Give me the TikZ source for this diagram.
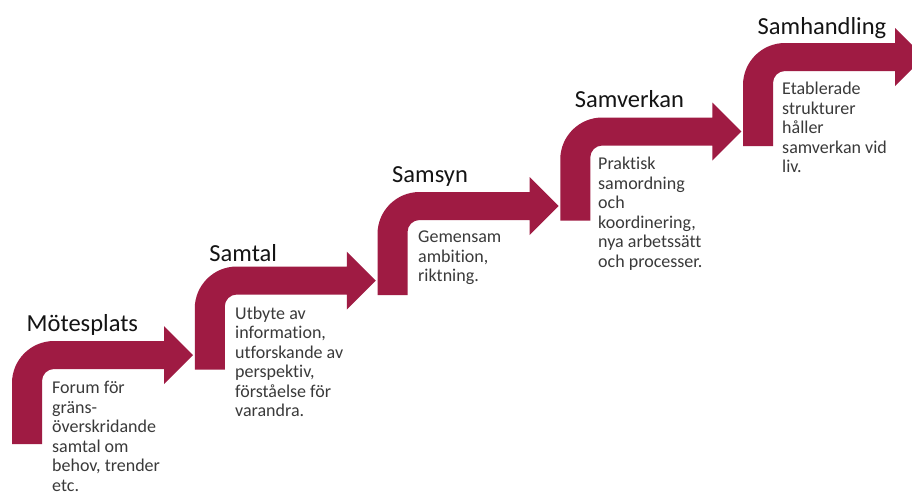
\documentclass[tikz,border=0pt]{standalone}
\usepackage{fontspec}
\setmainfont{Carlito}[Ligatures=NoCommon]
\definecolor{arrowred}{HTML}{9F1B43}
\definecolor{titlecol}{HTML}{141414}
\definecolor{bodycol}{HTML}{3A3A3A}
\tikzset{
  bentarrow/.pic={
    \fill[arrowred] (0,-89) -- (0,-28) arc[start angle=180,end angle=90,radius=42pt]
      -- (152,14) -- (152,29) -- (181,0) -- (152,-29) -- (152,-14) -- (42,-14)
      arc[start angle=90,end angle=180,radius=12pt] -- (30,-89) -- cycle;
  },
  steptitle/.style={anchor=base west, inner sep=0pt, text=titlecol,
    font=\fontsize{24.5}{28}\selectfont},
  stepbody/.style={anchor=north west, inner sep=0pt, text=bodycol, align=left,
    font=\fontsize{18}{19.5}\selectfont}
}
\begin{document}
\begin{tikzpicture}[x=1pt,y=1pt]
\fill[white] (0,0) rectangle (912,-493);
\useasboundingbox (0,0) rectangle (912,-493);
% arrows
\pic at (12,-355) {bentarrow};
\pic at (194.75,-280.5) {bentarrow};
\pic at (377.5,-206) {bentarrow};
\pic at (560.25,-131.5) {bentarrow};
\pic at (743,-57) {bentarrow};
% titles
\node[steptitle] (t1) at (26.5,-331) {Mötesplats};
\node[steptitle] (t2) at (209.25,-261) {Samtal};
\node[steptitle] (t3) at (392,-182) {Samsyn};
\node[steptitle] (t4) at (574.75,-107.5) {Samverkan};
\node[steptitle] (t5) at (757.5,-34) {Samhandling};
% bodies (top of first line ~13pt above its baseline)
\node[stepbody] (b1) at (52,-381) {Forum för\\gräns-\\överskridande\\samtal om\\behov, trender\\etc.};
\node[stepbody] (b2) at (235,-306.5) {Utbyte av\\information,\\utforskande av\\perspektiv,\\förståelse för\\varandra.};
\node[stepbody] (b3) at (418,-231) {Gemensam\\ambition,\\riktning.};
\node[stepbody] (b4) at (598,-157) {Praktisk\\samordning\\och\\koordinering,\\nya arbetssätt\\och processer.};
\node[stepbody] (b5) at (782,-82) {Etablerade\\strukturer\\håller\\samverkan vid\\liv.};
\end{tikzpicture}
\end{document}
